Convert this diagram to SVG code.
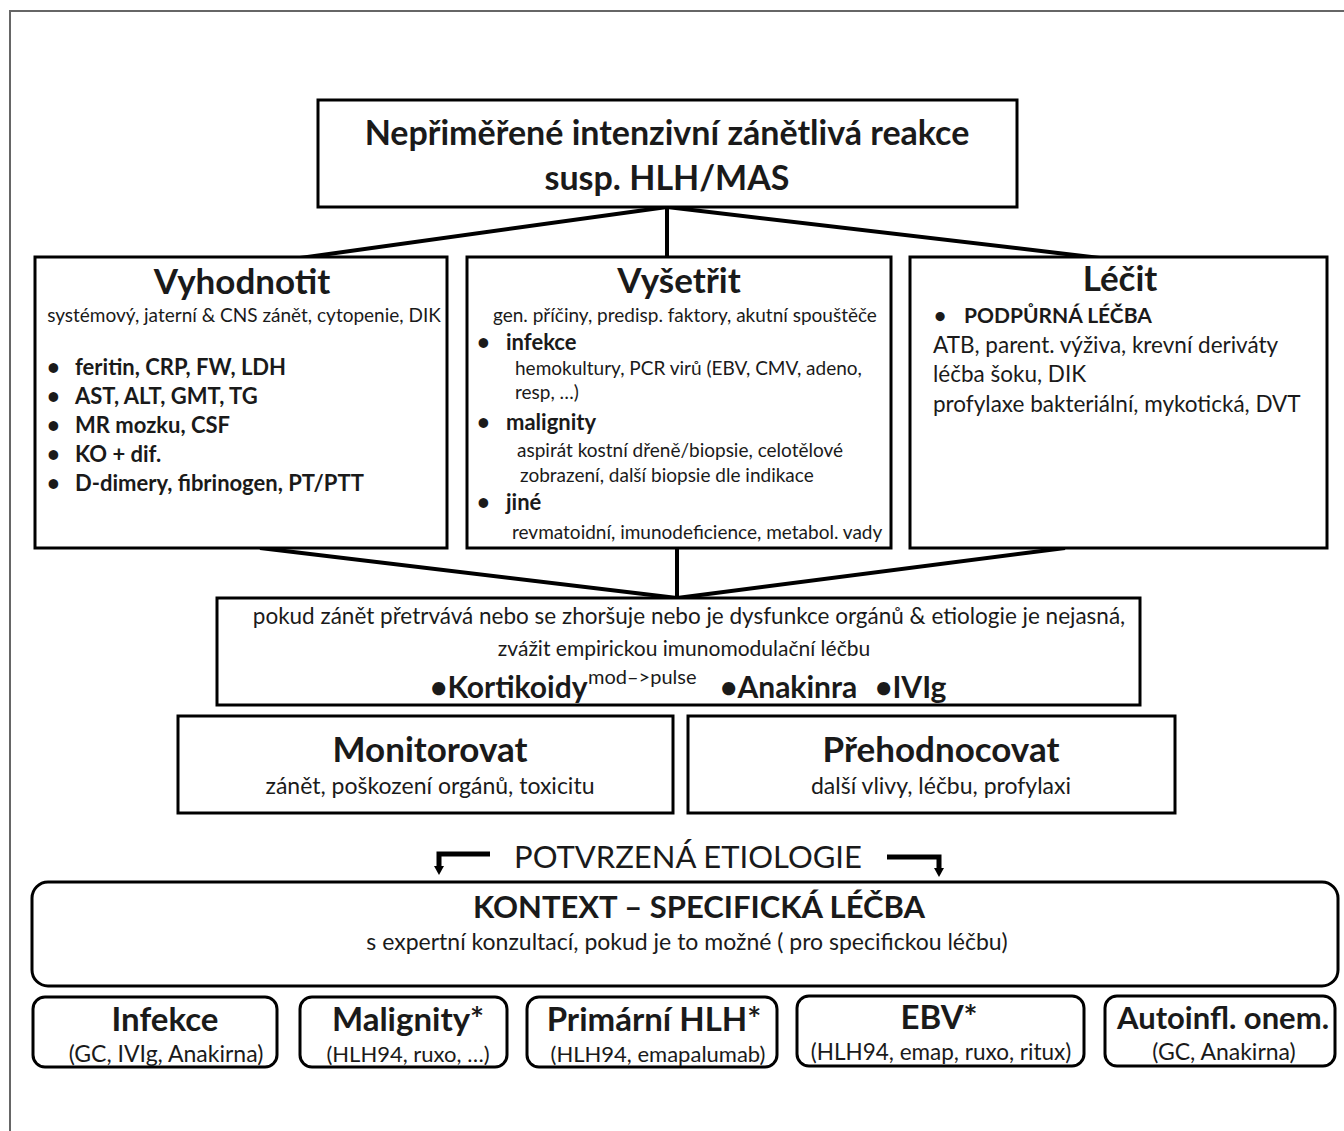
<svg xmlns="http://www.w3.org/2000/svg" width="1344" height="1131" viewBox="0 0 1344 1131">
<defs>
<style>
text{font-family:Lato,"Liberation Sans",sans-serif;fill:#1a1a1a}
.b{font-weight:700}
.box{fill:#fff;stroke:#000;stroke-width:3}
.conn{stroke:#000;stroke-width:4;fill:none}
.c{text-anchor:middle}
.t1{font-size:34px;font-weight:700}
.h{font-size:35px;font-weight:700}
.h2{font-size:35px;font-weight:700}
.hs{font-size:33px;font-weight:700}
.sub{font-size:19px}
.s23{font-size:23px}
.bl{font-size:22px;font-weight:700}
.l22{font-size:22.5px}
</style>
</defs>
<rect x="0" y="0" width="1344" height="1131" fill="#fff"/>
<path d="M10,1131 V11 H1344" fill="none" stroke="#666" stroke-width="2"/>

<g id="connectors">
<line class="conn" x1="667" y1="207" x2="300" y2="258"/>
<line class="conn" x1="667" y1="207" x2="667" y2="258"/>
<line class="conn" x1="667" y1="207" x2="1100" y2="258"/>
<line class="conn" x1="260" y1="548" x2="677" y2="598"/>
<line class="conn" x1="677" y1="548" x2="677" y2="598"/>
<line class="conn" x1="1065" y1="548" x2="677" y2="598"/>
<path d="M490,854 H439 V867" stroke="#000" stroke-width="5" fill="none"/>
<path d="M434,866 L444,866 L439,875 z" fill="#000"/>
<path d="M887,857 H939 V869" stroke="#000" stroke-width="5" fill="none"/>
<path d="M934,868 L944,868 L939,877 z" fill="#000"/>
</g>

<g id="top">
<rect class="box" x="318" y="100" width="699" height="107"/>
<text class="t1 c" x="667" y="145">Nepřiměřené intenzivní zánětlivá reakce</text>
<text class="t1 c" x="667" y="190">susp. HLH/MAS</text>
</g>

<g id="vyhodnotit">
<rect class="box" x="35" y="257" width="412" height="291"/>
<text class="h c" x="242" y="294">Vyhodnotit</text>
<text class="sub c" x="244" y="322">systémový, jaterní &amp; CNS zánět, cytopenie, DIK</text>
<text class="bl" x="47" y="375">•</text><text class="bl" x="75" y="375">feritin, CRP, FW, LDH</text>
<text class="bl" x="47" y="404">•</text><text class="bl" x="75" y="404">AST, ALT, GMT, TG</text>
<text class="bl" x="47" y="433">•</text><text class="bl" x="75" y="433">MR mozku, CSF</text>
<text class="bl" x="47" y="462">•</text><text class="bl" x="75" y="462">KO + dif.</text>
<text class="bl" x="47" y="491">•</text><text class="bl" x="75" y="491">D-dimery, fibrinogen, PT/PTT</text>
</g>

<g id="vysetrit">
<rect class="box" x="467" y="257" width="424" height="291"/>
<text class="h c" x="679" y="293">Vyšetřit</text>
<text class="sub" x="493" y="322">gen. příčiny, predisp. faktory, akutní spouštěče</text>
<text class="bl" x="477" y="350">•</text><text class="bl" x="506" y="350">infekce</text>
<text class="sub" x="515" y="375">hemokultury, PCR virů (EBV, CMV, adeno,</text>
<text class="sub" x="515" y="399">resp, …)</text>
<text class="bl" x="477" y="430">•</text><text class="bl" x="506" y="430">malignity</text>
<text class="sub" x="517" y="457">aspirát kostní dřeně/biopsie, celotělové</text>
<text class="sub" x="520" y="482">zobrazení, další biopsie dle indikace</text>
<text class="bl" x="477" y="510">•</text><text class="bl" x="506" y="510">jiné</text>
<text class="sub" x="512" y="539">revmatoidní, imunodeficience, metabol. vady</text>
</g>

<g id="lecit">
<rect class="box" x="910" y="257" width="417" height="291"/>
<text class="h c" x="1120" y="291">Léčit</text>
<text class="b" x="934" y="323" font-size="21">•</text>
<text class="b" x="964" y="323" font-size="21">PODPŮRNÁ LÉČBA</text>
<text class="l22" x="933" y="353">ATB, parent. výživa, krevní deriváty</text>
<text class="l22" x="933" y="382">léčba šoku, DIK</text>
<text class="l22" x="933" y="412">profylaxe bakteriální, mykotická, DVT</text>
</g>

<g id="empiricka">
<rect class="box" x="217" y="598" width="923" height="107"/>
<text class="l22 c" x="689" y="624">pokud zánět přetrvává nebo se zhoršuje nebo je dysfunkce orgánů &amp; etiologie je nejasná,</text>
<text class="c" font-size="21" x="684" y="656">zvážit empirickou imunomodulační léčbu</text>
<text class="b" font-size="30" x="430" y="698">•Kortikoidy</text>
<text font-size="20" x="588" y="684">mod–&gt;pulse</text>
<text class="b" font-size="30" x="720" y="698">•Anakinra</text>
<text class="b" font-size="30" x="875" y="698">•IVIg</text>
</g>

<g id="monitorovat">
<rect class="box" x="178" y="716" width="495" height="97"/>
<text class="c h2" x="430" y="762">Monitorovat</text>
<text class="c s23" x="430" y="794">zánět, poškození orgánů, toxicitu</text>
</g>

<g id="prehodnocovat">
<rect class="box" x="688" y="716" width="487" height="97"/>
<text class="c h2" x="941" y="762">Přehodnocovat</text>
<text class="c s23" x="941" y="794">další vlivy, léčbu, profylaxi</text>
</g>

<g id="potvrzena">
<text class="c" font-size="31" x="688" y="868">POTVRZENÁ ETIOLOGIE</text>
</g>

<g id="kontext">
<rect class="box" x="32" y="882" width="1306" height="104" rx="16"/>
<text class="c b" font-size="31" x="699" y="918">KONTEXT – SPECIFICKÁ LÉČBA</text>
<text class="c s23" x="687" y="950">s expertní konzultací, pokud je to možné ( pro specifickou léčbu)</text>
</g>

<g id="infekce">
<rect class="box" x="33" y="997" width="244" height="70" rx="12"/>
<text class="c hs" x="165" y="1031">Infekce</text>
<text class="c s23" x="166" y="1062">(GC, IVIg, Anakirna)</text>
</g>
<g id="malignity">
<rect class="box" x="300" y="997" width="207" height="70" rx="12"/>
<text class="c hs" x="408" y="1031">Malignity*</text>
<text class="c" font-size="22" x="408" y="1062">(HLH94, ruxo, …)</text>
</g>
<g id="primarni">
<rect class="box" x="527" y="997" width="250" height="70" rx="12"/>
<text class="c hs" x="654" y="1031">Primární HLH*</text>
<text class="c" font-size="22" x="658" y="1062">(HLH94, emapalumab)</text>
</g>
<g id="ebv">
<rect class="box" x="797" y="996" width="287" height="70" rx="12"/>
<text class="c hs" x="939" y="1029">EBV*</text>
<text class="c" font-size="22.5" x="941" y="1060">(HLH94, emap, ruxo, ritux)</text>
</g>
<g id="autoinfl">
<rect class="box" x="1105" y="996" width="230" height="70" rx="12"/>
<text class="c b" font-size="31" x="1223" y="1029">Autoinfl. onem.</text>
<text class="c s23" x="1224" y="1060">(GC, Anakirna)</text>
</g>
</svg>
